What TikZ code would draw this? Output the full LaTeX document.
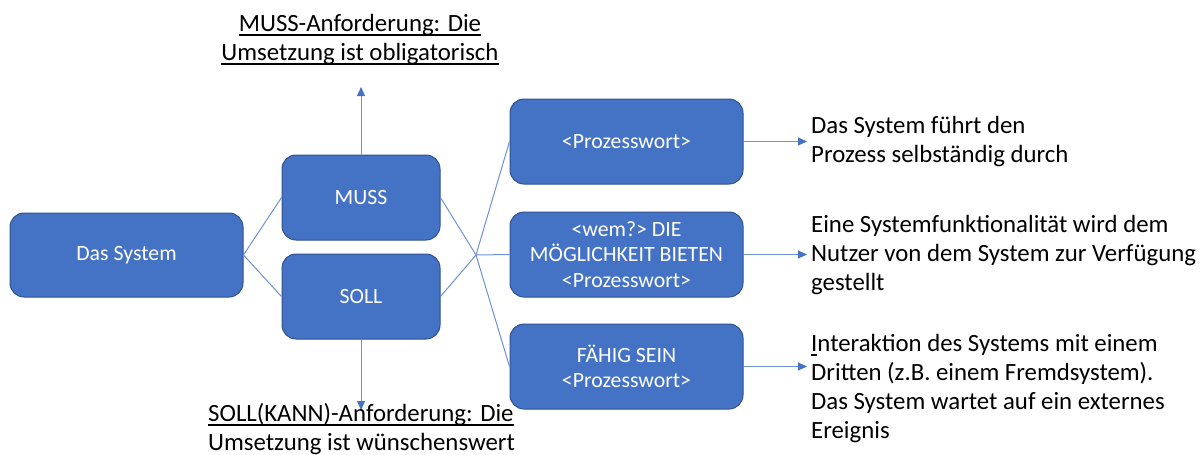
\documentclass[tikz,border=0pt]{standalone}
\usepackage{fontspec}
\setmainfont{Carlito}
\usetikzlibrary{arrows.meta}
\definecolor{boxfill}{HTML}{4472C4}
\definecolor{boxline}{HTML}{2F528F}
\definecolor{conn}{HTML}{6E92D6}
\newsavebox\ulxbox
\newcommand\ulx[1]{\sbox\ulxbox{#1}\rlap{\rule[-4.5pt]{\wd\ulxbox}{1.2pt}}\usebox\ulxbox}
\begin{document}
\begin{tikzpicture}[x=1pt,y=-1pt,
  bluebox/.style={draw=boxline, line width=1pt, fill=boxfill, rounded corners=14pt,
    text=white, inner sep=0pt, align=center,
    font=\fontsize{21.8}{25.5}\selectfont},
  conline/.style={draw=conn, line width=1pt},
  conarrow/.style={draw=conn, line width=1pt, -{Triangle[length=9pt,width=8pt,color=boxfill]}},
  note/.style={anchor=base west, align=left, inner sep=0pt,
    font=\fontsize{24.8}{29}\selectfont},
  ]
\useasboundingbox (0,0) rectangle (1200,455);
% boxes
\node[bluebox, minimum width=233pt, minimum height=84pt] (sys) at (126.5,255) {Das System};
\node[bluebox, minimum width=158pt, minimum height=85pt] (muss) at (361,197.5) {MUSS};
\node[bluebox, minimum width=158pt, minimum height=85pt] (soll) at (361,296.5) {SOLL};
\node[bluebox, minimum width=233pt, minimum height=85pt] (p1) at (626.5,141.5) {<Prozesswort>};
\node[bluebox, minimum width=233pt, minimum height=85pt] (p2) at (626.5,254.5) {<wem?> DIE\\MÖGLICHKEIT BIETEN\\<Prozesswort>};
\node[bluebox, minimum width=233pt, minimum height=85pt] (p3) at (626.5,366.5) {FÄHIG SEIN\\<Prozesswort>};
% connectors
\coordinate (hub) at (476,255);
\draw[conline] (sys.east) -- (muss.west);
\draw[conline] (sys.east) -- (soll.west);
\draw[conline] (muss.east) -- (hub);
\draw[conline] (soll.east) -- (hub);
\draw[conline] (hub) -- (p1.west);
\draw[conline] (hub) -- (p2.west);
\draw[conline] (hub) -- (p3.west);
% vertical arrows
\coordinate (upend) at (361,87);
\coordinate (downend) at (361,410);
\draw[conarrow] (muss.north) -- (upend);
\draw[conarrow] (soll.south) -- (downend);
% right arrows
\coordinate (a1) at (807,141.5);
\coordinate (a2) at (807,254.5);
\coordinate (a3) at (807,366.5);
\draw[conarrow] (p1.east) -- (a1);
\draw[conarrow] (p2.east) -- (a2);
\draw[conarrow] (p3.east) -- (a3);
% texts (base anchor = baseline of last line)
\node[note, anchor=base, align=center] (tmuss) at (360,60) {\ulx{MUSS-Anforderung: Die}\\\ulx{Umsetzung ist obligatorisch}};
\node[note] (tsoll) at (208,450) {\ulx{SOLL(KANN)-Anforderung: Die}\\Umsetzung ist wünschenswert};
\node[note] (t1) at (811,162) {Das System führt den\\Prozess selbständig durch};
\node[note] (t2) at (811,290) {Eine Systemfunktionalität wird dem\\Nutzer von dem System zur Verfügung\\gestellt};
\node[note] (t3) at (811,438) {\ulx{I}nteraktion des Systems mit einem\\Dritten (z.B. einem Fremdsystem).\\Das System wartet auf ein externes\\Ereignis};
\end{tikzpicture}
\end{document}
